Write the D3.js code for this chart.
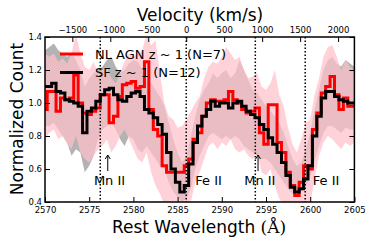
<!DOCTYPE html>
<html>
<head>
<meta charset="utf-8">
<script src="https://cdn.jsdelivr.net/npm/d3@7"></script>
<style>
  body { margin: 0; background: #fff; }
  svg { display: block; font-family: "DejaVu Sans", sans-serif; }
</style>
</head>
<body>
<svg width="374" height="249"></svg>
<script>
// wavelength grid: 2570 .. 2605 in 0.5 A steps
const waveStart = 2570, waveStep = 0.5;

// NL AGN stack (red) and SF stack (black)
const agnFlux = [0.96,1.07,1.07,0.95,1.03,1.02,1.03,1.17,1.00,0.94,0.93,0.95,0.97,1.05,1.05,0.88,0.92,1.04,1.11,1.12,
  1.13,1.09,1.10,1.25,0.96,0.84,0.80,0.62,0.58,0.58,0.58,0.58,0.62,0.66,0.78,0.82,0.92,1.00,1.02,1.01,
  1.01,1.02,1.07,1.02,1.00,0.96,0.94,0.95,0.97,0.82,0.75,0.99,0.99,0.76,0.70,0.58,0.50,0.44,0.52,0.62,
  0.60,0.84,0.94,1.06,1.10,1.16,1.05,0.96,1.03,0.98,0.98];
const sfFlux = [1.10,1.10,1.12,1.07,1.06,1.02,1.01,1.00,0.98,0.82,0.95,0.97,1.01,1.05,1.08,1.09,1.05,1.02,1.01,1.04,
  1.06,1.07,1.04,0.96,0.94,0.91,0.87,0.81,0.70,0.60,0.52,0.46,0.50,0.63,0.76,0.86,0.92,0.96,1.01,0.98,
  1.00,1.00,0.97,1.00,1.01,0.98,0.95,0.93,0.91,0.87,0.84,0.79,0.75,0.70,0.64,0.56,0.49,0.46,0.48,0.54,
  0.62,0.80,0.92,1.03,1.07,1.07,1.04,1.02,1.01,1.00,1.00];

// scatter envelopes
const agnHigh = [1.30,1.28,1.30,1.25,1.27,1.24,1.30,1.42,1.30,1.22,1.20,1.25,1.18,1.20,1.22,1.15,1.12,1.18,1.25,1.30,
  1.28,1.30,1.32,1.42,1.35,1.38,1.18,1.00,0.92,0.90,0.85,0.86,0.90,0.95,1.00,1.04,1.15,1.22,1.25,1.24,
  1.28,1.34,1.30,1.26,1.28,1.20,1.15,1.16,1.18,1.10,1.08,1.12,1.20,1.05,0.98,0.85,0.75,0.70,0.78,0.88,
  0.90,1.05,1.15,1.28,1.34,1.35,1.28,1.20,1.26,1.22,1.20];
const agnLow = [0.78,0.82,0.84,0.78,0.80,0.75,0.72,0.80,0.70,0.66,0.64,0.68,0.72,0.74,0.78,0.70,0.74,0.80,0.84,0.78,
  0.72,0.66,0.64,0.70,0.58,0.50,0.45,0.38,0.36,0.35,0.35,0.34,0.36,0.40,0.52,0.58,0.66,0.74,0.76,0.72,
  0.76,0.74,0.78,0.72,0.70,0.72,0.68,0.66,0.70,0.58,0.56,0.60,0.50,0.42,0.38,0.32,0.30,0.28,0.30,0.36,
  0.38,0.55,0.68,0.76,0.80,0.78,0.75,0.72,0.76,0.74,0.76];
const sfHigh = [1.32,1.34,1.36,1.32,1.30,1.28,1.30,1.26,1.20,1.10,1.15,1.18,1.20,1.22,1.26,1.28,1.22,1.18,1.20,1.24,
  1.26,1.25,1.20,1.14,1.12,1.08,1.04,0.98,0.88,0.78,0.70,0.64,0.68,0.80,0.92,1.02,1.08,1.12,1.18,1.15,
  1.18,1.20,1.15,1.18,1.26,1.20,1.14,1.08,1.06,1.02,0.98,0.95,0.92,0.88,0.82,0.74,0.66,0.62,0.64,0.72,
  0.82,0.96,1.08,1.20,1.26,1.28,1.24,1.22,1.26,1.24,1.22];
const sfLow = [0.86,0.86,0.88,0.84,0.80,0.76,0.68,0.72,0.70,0.58,0.62,0.68,0.78,0.84,0.86,0.88,0.84,0.78,0.74,0.80,
  0.78,0.72,0.70,0.74,0.70,0.66,0.62,0.60,0.52,0.46,0.43,0.40,0.42,0.48,0.60,0.68,0.74,0.80,0.82,0.80,
  0.78,0.80,0.78,0.80,0.78,0.74,0.72,0.70,0.68,0.66,0.66,0.64,0.60,0.56,0.52,0.48,0.45,0.44,0.46,0.50,
  0.55,0.65,0.74,0.82,0.86,0.86,0.84,0.82,0.85,0.84,0.84];

const xTicks = [2570, 2575, 2580, 2585, 2590, 2595, 2600, 2605];
const yTicks = [0.4, 0.6, 0.8, 1.0, 1.2, 1.4];
const velTicks = [-1500, -1000, -500, 0, 500, 1000, 1500, 2000];
const velLimits = [-1860, 2215];
// line positions in velocity (dotted) and labels / arrows in wavelength
const lineVel = [-1132, 0, 910, 1567];
const lineLabels = [
  { name: "Mn II", wave: 2577.3 },
  { name: "Fe II", wave: 2588.5 },
  { name: "Mn II", wave: 2594.3 },
  { name: "Fe II", wave: 2601.8 }
];
const arrowWaves = [2577.1, 2594.1];

const legendItems = [
  { label: "NL AGN z ~ 1 (N=7)", color: "#ff0000" },
  { label: "SF z ~ 1 (N=12)", color: "#000000" }
];

const margin = { left: 45, right: 19.6, top: 37, bottom: 47 };
const W = 374, H = 249;
const svg = d3.select("svg");

const x = d3.scaleLinear().domain([2570, 2605]).range([margin.left, W - margin.right]);
const xv = d3.scaleLinear().domain(velLimits).range([margin.left, W - margin.right]);
const y = d3.scaleLinear().domain([0.4, 1.4]).range([H - margin.bottom, margin.top]);

const waves = agnFlux.map((d, i) => waveStart + i * waveStep);

svg.append("clipPath").attr("id", "plotclip")
  .append("rect")
  .attr("x", margin.left).attr("y", margin.top)
  .attr("width", x.range()[1] - margin.left)
  .attr("height", y.range()[0] - margin.top);

const plot = svg.append("g").attr("clip-path", "url(#plotclip)");

function band(lo, hi) {
  return d3.area()
    .x((d, i) => x(waves[i]))
    .y0((d, i) => y(lo[i]))
    .y1((d, i) => y(hi[i]))(waves);
}

plot.append("path").attr("d", band(sfLow, sfHigh))
  .attr("fill", "#808080").attr("fill-opacity", 0.6);
plot.append("path").attr("d", band(agnLow, agnHigh))
  .attr("fill", "#ffc0cb").attr("fill-opacity", 0.72);

const stepLine = d3.line()
  .x(d => x(d[0]))
  .y(d => y(d[1]))
  .curve(d3.curveStep);

plot.append("path")
  .attr("d", stepLine(waves.map((w, i) => [w, agnFlux[i]])))
  .attr("fill", "none").attr("stroke", "#ff0000").attr("stroke-width", 3);
plot.append("path")
  .attr("d", stepLine(waves.map((w, i) => [w, sfFlux[i]])))
  .attr("fill", "none").attr("stroke", "#000").attr("stroke-width", 3);

// dotted line markers
plot.selectAll(".vline").data(lineVel).enter().append("line")
  .attr("class", "vline")
  .attr("x1", d => xv(d)).attr("x2", d => xv(d))
  .attr("y1", margin.top).attr("y2", y.range()[0])
  .attr("stroke", "#000").attr("stroke-width", 1.5)
  .attr("stroke-dasharray", "1.5,2");

// arrows
arrowWaves.forEach(w => {
  const ax = x(w);
  svg.append("line").attr("x1", ax).attr("x2", ax)
    .attr("y1", 171).attr("y2", 155.5)
    .attr("stroke", "#000").attr("stroke-width", 1);
  svg.append("path")
    .attr("d", `M${ax - 2.5},${159} L${ax},${155} L${ax + 2.5},${159}`)
    .attr("fill", "none").attr("stroke", "#000").attr("stroke-width", 1);
});

svg.selectAll(".linelabel").data(lineLabels).enter().append("text")
  .attr("class", "linelabel")
  .attr("x", d => x(d.wave)).attr("y", 185)
  .attr("text-anchor", "middle")
  .attr("font-size", 13)
  .text(d => d.name);

// axes
const xAxis = d3.axisBottom(x).tickValues(xTicks).tickSize(-5).tickPadding(5).tickFormat(d3.format("d"));
const gx = svg.append("g").attr("transform", `translate(0,${y.range()[0]})`).call(xAxis);
const yAxis = d3.axisLeft(y).tickValues(yTicks).tickSize(-5).tickPadding(3).tickFormat(d3.format(".1f"));
const gy = svg.append("g").attr("transform", `translate(${margin.left},0)`).call(yAxis);
const yAxisR = d3.axisRight(y).tickValues(yTicks).tickSize(-5).tickFormat("");
const gyr = svg.append("g").attr("transform", `translate(${x.range()[1]},0)`).call(yAxisR);
const vAxis = d3.axisTop(xv).tickValues(velTicks).tickSize(-5).tickPadding(4)
  .tickFormat(d => d < 0 ? "\u2212" + Math.abs(d) : String(d));
const gv = svg.append("g").attr("transform", `translate(0,${margin.top})`).call(vAxis);

[gx, gy, gyr, gv].forEach(g => {
  g.select(".domain").remove();
  g.selectAll("line").attr("stroke", "#000").attr("stroke-width", 1);
  g.selectAll("text").attr("font-size", 8.5).attr("fill", "#000")
    .attr("font-family", "DejaVu Sans");
});

svg.append("rect")
  .attr("x", margin.left).attr("y", margin.top)
  .attr("width", x.range()[1] - margin.left)
  .attr("height", y.range()[0] - margin.top)
  .attr("fill", "none").attr("stroke", "#000").attr("stroke-width", 1.5);

// titles
svg.append("text").attr("x", 200).attr("y", 21)
  .attr("text-anchor", "middle").attr("font-size", 17).text("Velocity (km/s)");

const xt = svg.append("text").attr("x", 199).attr("y", 233)
  .attr("text-anchor", "middle").attr("font-size", 17);
xt.append("tspan").text("Rest Wavelength ");
xt.append("tspan").attr("font-family", "DejaVu Serif").text("(\u00c5)");

svg.append("text")
  .attr("transform", "translate(23,119) rotate(-90)")
  .attr("text-anchor", "middle").attr("font-size", 17).text("Normalized Count");

// legend
const leg = svg.append("g");
legendItems.forEach((d, i) => {
  const ly = 54 + i * 18.5;
  leg.append("line").attr("x1", 60).attr("x2", 83).attr("y1", ly).attr("y2", ly)
    .attr("stroke", d.color).attr("stroke-width", 3);
  leg.append("text").attr("x", 95).attr("y", ly + 4.5)
    .attr("font-size", 13).text(d.label);
});
</script>
</body>
</html>
